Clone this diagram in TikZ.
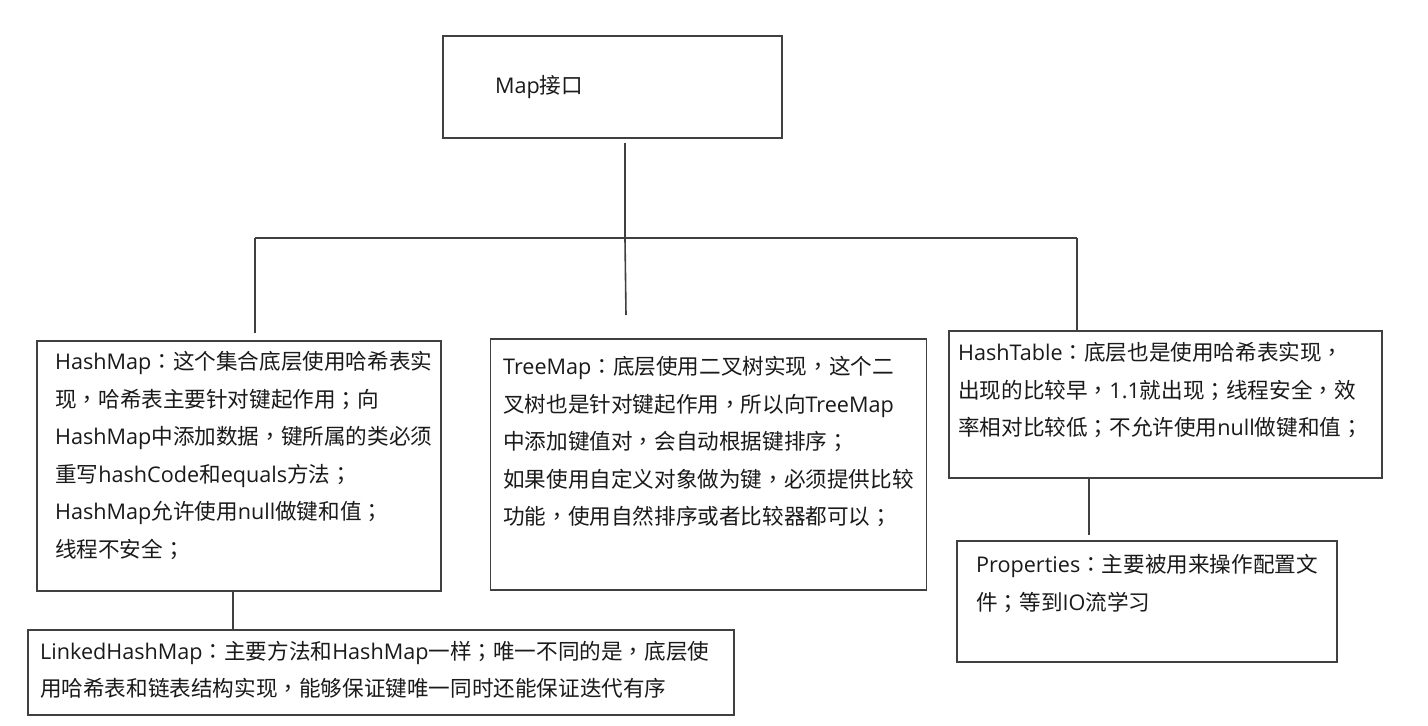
\documentclass[tikz,border=0pt]{standalone}
\usepackage{fontspec}
\setmainfont{Open Sans}
\newfontfamily\zhfont{Noto Sans CJK SC}
\newfontfamily\zhpfont{Noto Sans CJK TC}
\newcommand\zh[1]{{\zhfont #1}}
\newcommand\pc[1]{{\zhpfont #1}}
\definecolor{linegray}{HTML}{404040}
\definecolor{txtgray}{HTML}{1A1A1A}
\begin{document}
\begin{tikzpicture}[x=1pt,y=-1pt,
  box/.style={draw=linegray,line width=1.6pt,rectangle,inner sep=0pt},
  txt/.style={inner sep=0pt,align=left,text=txtgray,anchor=north west,
    font=\fontsize{21.6}{37.5}\selectfont},
  conn/.style={draw=linegray,line width=1.6pt}]
\useasboundingbox[fill=white] (0,0) rectangle (1428,726);
% boxes
\node[box,minimum width=339pt,minimum height=102pt] (map) at (612.5,87) {};
\node[box,minimum width=404pt,minimum height=250pt] (hashmap) at (239,466) {};
\node[box,minimum width=436pt,minimum height=251pt] (treemap) at (708.5,464.5) {};
\node[box,minimum width=433pt,minimum height=147pt] (hashtable) at (1165.5,404.5) {};
\node[box,minimum width=380pt,minimum height=121pt] (properties) at (1147,601.5) {};
\node[box,minimum width=706pt,minimum height=85pt] (linked) at (381,672.5) {};
% texts
\node[txt,anchor=west] (tmap) at (495,87) {Map\zh{接口}};
\node[txt] (thm) at (55,351) {HashMap\zh{\pc{：}这个集合底层使用哈希表实}\\
\zh{现\pc{，}哈希表主要针对键起作用\pc{；}向}\\
HashMap\zh{中添加数据\pc{，}键所属的类必须}\\
\zh{重写}hashCode\zh{和}equals\zh{方法\pc{；}}\\
HashMap\zh{允许使用}null\zh{做键和值\pc{；}}\\
\zh{线程不安全\pc{；}}};
\node[txt] (ttm) at (503,356) {TreeMap\zh{\pc{：}底层使用二叉树实现\pc{，}这个二}\\
\zh{叉树也是针对键起作用\pc{，}所以向}TreeMap\\
\zh{中添加键值对\pc{，}会自动根据键排序\pc{；}}\\
\zh{如果使用自定义对象做为键\pc{，}必须提供比较}\\
\zh{功能\pc{，}使用自然排序或者比较器都可以\pc{；}}};
\node[txt] (tht) at (958,342) {HashTable\zh{\pc{：}底层也是使用哈希表实现\pc{，}}\\
\zh{出现的比较早\pc{，}}1.1\zh{就出现\pc{；}线程安全\pc{，}效}\\
\zh{率相对比较低\pc{；}不允许使用}null\zh{做键和值\pc{；}}};
\node[txt] (tpr) at (976,554) {Properties\zh{\pc{：}主要被用来操作配置文}\\
\zh{件\pc{；}等到}IO\zh{流学习}};
\node[txt] (tlk) at (40,641) {LinkedHashMap\zh{\pc{：}主要方法和}HashMap\zh{一样\pc{；}唯一不同的是\pc{，}底层使}\\
\zh{用哈希表和链表结构实现\pc{，}能够保证键唯一同时还能保证迭代有序}};
% junction coordinates
\coordinate (jc) at (625,239);
\coordinate (jl) at (255,238);
\coordinate (jr) at (1077,238);
\coordinate (el) at (255,333);
\coordinate (ec) at (626,315);
\coordinate (xl) at (233,600);
\coordinate (pe) at (1089,535);
% connectors
\draw[conn] ([yshift=-4pt]map.south -| jc) -- (jc);
\draw[conn] (jl) -- (jr);
\draw[conn] (jl) -- (el);
\draw[conn] (jc) -- (ec);
\draw[conn] (jr) -- (hashtable.north -| jr);
\draw[conn] (hashmap.south -| xl) -- (linked.north -| xl);
\draw[conn] (hashtable.south -| pe) -- (pe);
\end{tikzpicture}
\end{document}
